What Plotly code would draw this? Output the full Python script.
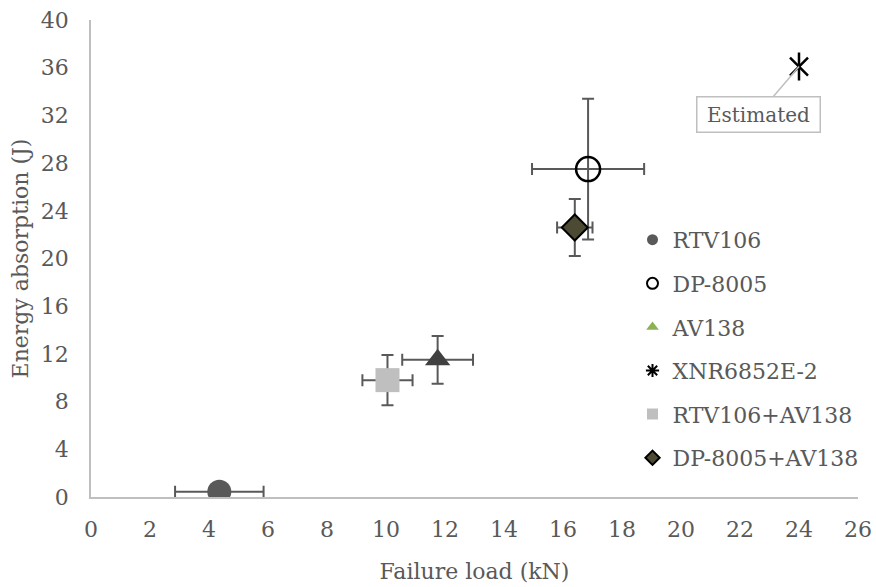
import plotly.graph_objects as go

names = ["RTV106", "DP-8005", "AV138", "XNR6852E-2", "RTV106+AV138", "DP-8005+AV138"]
load = [4.35, 16.85, 11.75, 24.0, 10.05, 16.4]
load_err = [1.5, 1.9, 1.2, None, 0.85, 0.6]
energy = [0.45, 27.5, 11.5, 36.1, 9.8, 22.6]
energy_err = [0.0, 5.9, 2.0, None, 2.1, 2.4]

symbols = ["circle", "circle-open", "triangle-up", "x-thin-open", "square", "diamond"]
fills = ["#595959", "#000000", "#404040", "#000000", "#bfbfbf", "#4d4a33"]
legend_fills = ["#595959", "#000000", "#8db255", "#000000", "#bfbfbf", "#4d4a33"]
line_colors = ["#595959", "#000000", "#404040", "#000000", "#bfbfbf", "#000000"]
line_widths = [0, 2.5, 0, 2.5, 0, 2]
sizes = [24, 24, 22, 18, 24, 20]

FONT = "DejaVu Serif"
TXT = "#595959"

fig = go.Figure()
for i, n in enumerate(names):
    kw = {}
    if load_err[i] is not None:
        kw["error_x"] = dict(type="data", array=[load_err[i]], color="#595959", thickness=2, width=6)
        kw["error_y"] = dict(type="data", array=[energy_err[i]], color="#595959", thickness=2, width=6,
                             visible=energy_err[i] > 0)
    fig.add_trace(go.Scatter(
        x=[load[i]], y=[energy[i]], mode="markers", showlegend=False,
        marker=dict(symbol=symbols[i], size=sizes[i], color=fills[i],
                    line=dict(color=line_colors[i], width=line_widths[i])),
        **kw))
    if symbols[i] == "x-thin-open":
        # vertical stroke of the six-armed star
        fig.add_trace(go.Scatter(
            x=[load[i]], y=[energy[i]], mode="markers", showlegend=False,
            marker=dict(symbol="line-ns-open", size=20, color="#000000",
                        line=dict(color="#000000", width=2.5))))

for i, n in enumerate(names):
    fig.add_trace(go.Scatter(
        x=[None], y=[None], mode="markers", name=n, legendgroup=n,
        marker=dict(symbol=("asterisk-open" if symbols[i] == "x-thin-open" else symbols[i]),
                    size=11, color=legend_fills[i],
                    line=dict(color=line_colors[i] if i != 2 else legend_fills[i],
                              width=min(line_widths[i], 2)))))

fig.add_annotation(x=load[3], y=energy[3], text="Estimated", showarrow=True,
                   arrowhead=0, arrowcolor="#bfbfbf", arrowwidth=1.5,
                   ax=-41, ay=48, width=112, bordercolor="#bfbfbf", borderwidth=1.5, borderpad=5,
                   bgcolor="white", font=dict(family=FONT, size=20, color=TXT))

fig.update_layout(
    width=876, height=587, plot_bgcolor="white", paper_bgcolor="white",
    margin=dict(l=91, r=18, t=20, b=90, autoexpand=False),
    font=dict(family=FONT, size=22, color=TXT),
    legend=dict(x=0.706, y=0.583, xanchor="left", yanchor="top",
                font=dict(family=FONT, size=22, color=TXT),
                tracegroupgap=12, itemwidth=30, bgcolor="rgba(0,0,0,0)"),
    xaxis=dict(range=[0, 26], tickvals=list(range(0, 27, 2)), showgrid=False,
               zeroline=False, showline=True, linecolor="#bfbfbf", linewidth=1.5,
               title=dict(text="Failure load (kN)", font=dict(size=22), standoff=22),
               ticks="", ticklabelstandoff=12, automargin=False),
    yaxis=dict(range=[0, 40], tickvals=list(range(0, 41, 4)), showgrid=False,
               zeroline=False, showline=True, linecolor="#bfbfbf", linewidth=1.5,
               title=dict(text="Energy absorption (J)", font=dict(size=22), standoff=6),
               ticks="", ticklabelstandoff=16, automargin=False),
)
fig.write_html("out.html")
